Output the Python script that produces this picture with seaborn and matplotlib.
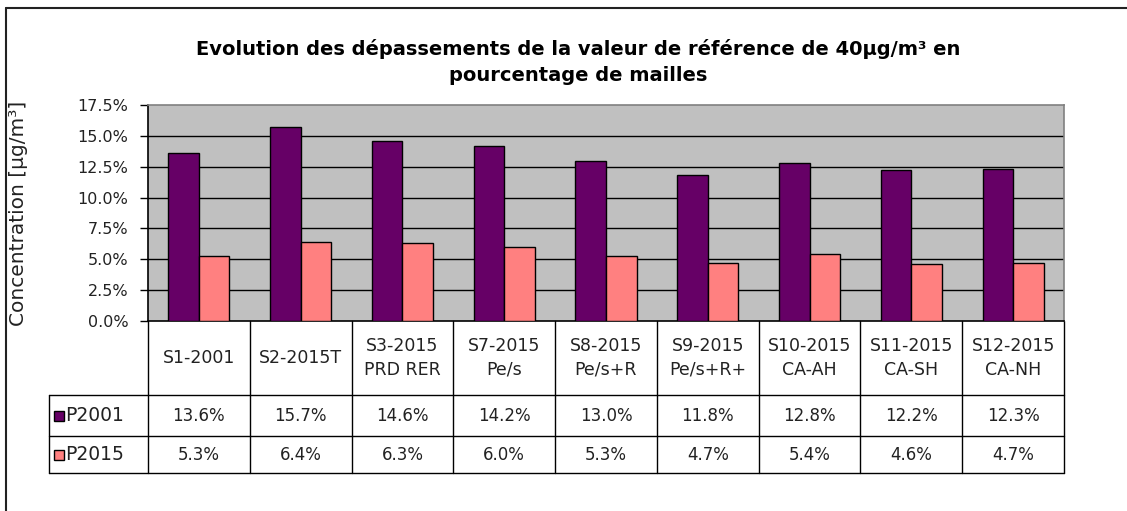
import numpy as np
import pandas as pd
import matplotlib
matplotlib.use('Agg')
import matplotlib.pyplot as plt
import seaborn as sns
from matplotlib.lines import Line2D

# data
scenarios = ['S1-2001', 'S2-2015T', 'S3-2015\nPRD RER', 'S7-2015\nPe/s',
             'S8-2015\nPe/s+R', 'S9-2015\nPe/s+R+', 'S10-2015\nCA-AH',
             'S11-2015\nCA-SH', 'S12-2015\nCA-NH']
series = ['P2001', 'P2015']
p2001 = [13.6, 15.7, 14.6, 14.2, 13.0, 11.8, 12.8, 12.2, 12.3]
p2015 = [5.3, 6.4, 6.3, 6.0, 5.3, 4.7, 5.4, 4.6, 4.7]
colors = {'P2001': '#660066', 'P2015': '#FF8080'}

df = pd.DataFrame({
    'scenario': scenarios * 2,
    'serie': ['P2001'] * len(scenarios) + ['P2015'] * len(scenarios),
    'value': p2001 + p2015,
})

sns.set_style('white')
plt.rcParams['font.family'] = ['DejaVu Sans']
txt = '#222222'

fig = plt.figure(figsize=(11.27, 5.11), dpi=100)
W, H = 1127, 511
left, right, top, bottom = 148, 1064, 105, 321
ax = fig.add_axes([left / W, 1 - bottom / H, (right - left) / W, (bottom - top) / H])
ax.set_facecolor('#C0C0C0')

sns.barplot(data=df, x='scenario', y='value', hue='serie', palette=colors,
            width=0.6, saturation=1, edgecolor='black', linewidth=1,
            legend=False, ax=ax, zorder=3)

ax.set_xlim(-0.5, len(scenarios) - 0.5)
ax.set_ylim(0, 17.5)
yt = np.arange(0, 17.6, 2.5)
ax.set_yticks(yt)
ax.set_yticklabels(['%.1f%%' % v for v in yt], fontsize=11.5, color=txt)
ax.tick_params(axis='y', length=6, width=1, color='black', pad=8, direction='out', left=True)
ax.set_xticks([])
ax.set_xlabel('')
for v in yt[1:-1]:
    ax.axhline(v, color='black', lw=1, zorder=1)
ax.spines['left'].set_color('black')
ax.spines['bottom'].set_color('black')
ax.spines['top'].set_color('#808080')
ax.spines['right'].set_color('#808080')
for s in ax.spines.values():
    s.set_linewidth(1.2)

ax.set_ylabel('Concentration [µg/m³]', fontsize=14.5, color=txt)
ax.yaxis.set_label_coords((28 - left) / (right - left), 0.5)

# data table below the plot
ph = bottom - top
pw = right - left
y_head = (bottom - 395) / ph
y_r1 = (bottom - 436) / ph
y_r2 = (bottom - 473) / ph
x_leg = (49 - left) / pw
tr = ax.transAxes
n = len(scenarios)

def line(xs, ys):
    ax.add_line(Line2D(xs, ys, transform=tr, color='black', lw=1, clip_on=False))

for i in range(n + 1):
    line([i / n, i / n], [0, y_r2])
line([x_leg, x_leg], [y_head, y_r2])
for yy in (y_head, y_r1, y_r2):
    line([x_leg, 1], [yy, yy])

for i, lab in enumerate(scenarios):
    xc = (i + 0.5) / n
    ax.text(xc, y_head / 2, lab, transform=tr, ha='center', va='center',
            fontsize=12.5, color=txt, linespacing=1.4)
    ax.text(xc, (y_head + y_r1) / 2, '%.1f%%' % p2001[i], transform=tr,
            ha='center', va='center', fontsize=12, color=txt)
    ax.text(xc, (y_r1 + y_r2) / 2, '%.1f%%' % p2015[i], transform=tr,
            ha='center', va='center', fontsize=12, color=txt)

for name, (y0, y1) in zip(series, [(y_head, y_r1), (y_r1, y_r2)]):
    yc = (y0 + y1) / 2
    ax.plot([(58.5 - left) / pw], [yc], marker='s', ms=6.5, mfc=colors[name],
            mec='black', mew=1, transform=tr, clip_on=False)
    ax.text((65 - left) / pw, yc, name, transform=tr, ha='left', va='center',
            fontsize=13.5, color=txt)

fig.text(578 / W, 1 - 62 / H,
         'Evolution des dépassements de la valeur de référence de 40µg/m³ en\npourcentage de mailles',
         ha='center', va='center', fontsize=14, fontweight='bold', color='black',
         linespacing=1.5)

# outer chart frame
fig.add_artist(Line2D([6 / W, 6 / W], [0, 1 - 8 / H], color='#222222', lw=1.5))
fig.add_artist(Line2D([6 / W, 1], [1 - 8 / H, 1 - 8 / H], color='#222222', lw=1.5))

fig.savefig('out.png', dpi=100, facecolor='white')
